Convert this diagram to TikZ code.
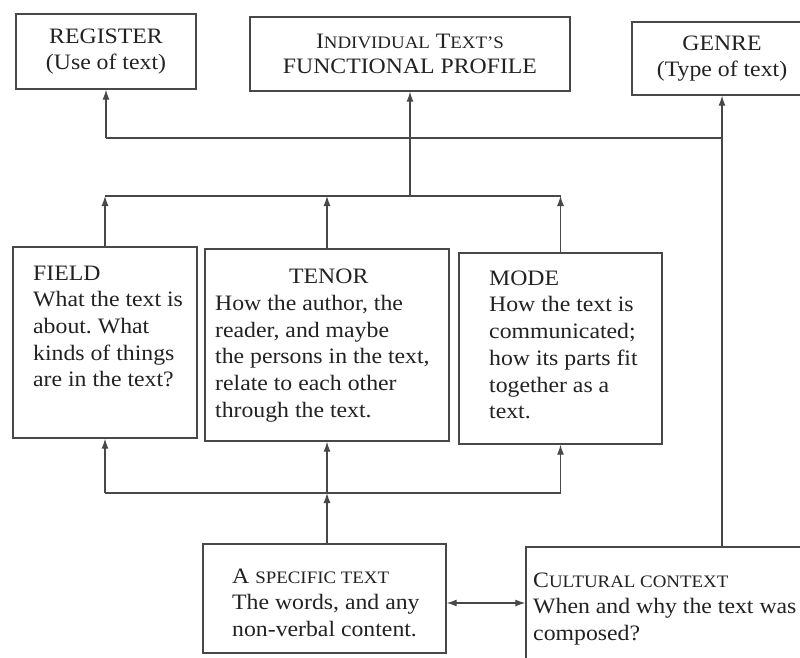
\documentclass[tikz,border=0pt]{standalone}
\usepackage{fontspec}
\setmainfont{Liberation Serif}[FakeStretch=1.08]
\usetikzlibrary{arrows.meta}
\frenchspacing
\newcommand\smc[1]{{\fontsize{17.5}{20}\selectfont #1}}
\definecolor{ink}{HTML}{222222}
\definecolor{wire}{HTML}{484848}
\begin{document}
\begin{tikzpicture}[x=1pt,y=-1pt,
  box/.style={draw=wire,line width=1.4pt,rectangle,inner sep=0pt,text=ink},
  toptxt/.style={font=\fontsize{22}{25.5}\selectfont,align=center},
  txt/.style={text=ink,inner sep=0pt,font=\fontsize{22}{26.7}\selectfont,align=left,anchor=north west},
  myTip/.tip={Latex[length=10pt,width=7pt]},
  arr/.style={draw=wire,line width=1.2pt,-myTip},
  wireline/.style={draw=wire,line width=1.2pt}]
\clip (0,0) rectangle (800,657);
\fill[white] (0,0) rectangle (800,657);
% top row
\node[box,toptxt,minimum width=180pt,minimum height=75pt] (register) at (106,51.5) {REGISTER\\(Use of text)};
\node[box,toptxt,minimum width=320pt,minimum height=74pt] (profile) at (410,54) {I\smc{NDIVIDUAL} T\smc{EXT'S}\\FUNCTIONAL PROFILE};
\node[box,toptxt,minimum width=180pt,minimum height=73pt] (genre) at (722,58.5) {GENRE\\(Type of text)};
% middle row
\node[box,minimum width=184pt,minimum height=191pt] (field) at (105,342.5) {};
\node[box,minimum width=244pt,minimum height=192pt] (tenor) at (327,345) {};
\node[box,minimum width=203pt,minimum height=191pt] (mode) at (560.5,348.5) {};
\node[txt] (fieldt) at (33,265.5) {FIELD\\What the text is\\about. What\\kinds of things\\are in the text?};
\node[txt] (tenort) at (215,269) {\hspace*{74pt}TENOR\\How the author, the\\reader, and maybe\\the persons in the text,\\relate to each other\\through the text.};
\node[txt] (modet) at (489,270.5) {MODE\\How the text is\\communicated;\\how its parts fit\\together as a\\text.};
% bottom row
\node[box,minimum width=243pt,minimum height=109pt] (spec) at (324.5,598.5) {};
\node[box,minimum width=305pt,minimum height=153pt] (cult) at (678.5,623.5) {};
\node[txt] (spect) at (232,568.5) {A \smc{SPECIFIC TEXT}\\The words, and any\\non-verbal content.};
\node[txt] (cultt) at (533,572.5) {C\smc{ULTURAL CONTEXT}\\When and why the text was\\composed?};
% buses
\coordinate (b1) at (0,138);
\coordinate (b2) at (0,196);
\coordinate (b3) at (0,493);
\coordinate (lv) at (0,603);
% upper connectors
\draw[wireline] (register.south |- b1) -- (genre.south |- b1);
\draw[arr] (register.south |- b1) -- (register.south);
\draw[arr] (genre.south |- cult.north) -- (genre.south);
\draw[wireline] (field.north |- b2) -- (mode.north |- b2);
\draw[arr] (field.north) -- (field.north |- b2);
\draw[arr] (tenor.north) -- (tenor.north |- b2);
\draw[arr] (mode.north) -- (mode.north |- b2);
\draw[arr] (profile.south |- b2) -- (profile.south);
% lower connectors
\draw[wireline] (field.south |- b3) -- (mode.south |- b3);
\draw[arr] (field.south |- b3) -- (field.south);
\draw[arr] (mode.south |- b3) -- (mode.south);
\draw[arr] (tenor.south |- spec.north) -- (tenor.south |- b3);
\draw[arr] (tenor.south |- b3) -- (tenor.south);
\draw[draw=wire,line width=1.2pt,myTip-myTip] (spec.east |- lv) -- (cult.west |- lv);
\end{tikzpicture}
\end{document}
